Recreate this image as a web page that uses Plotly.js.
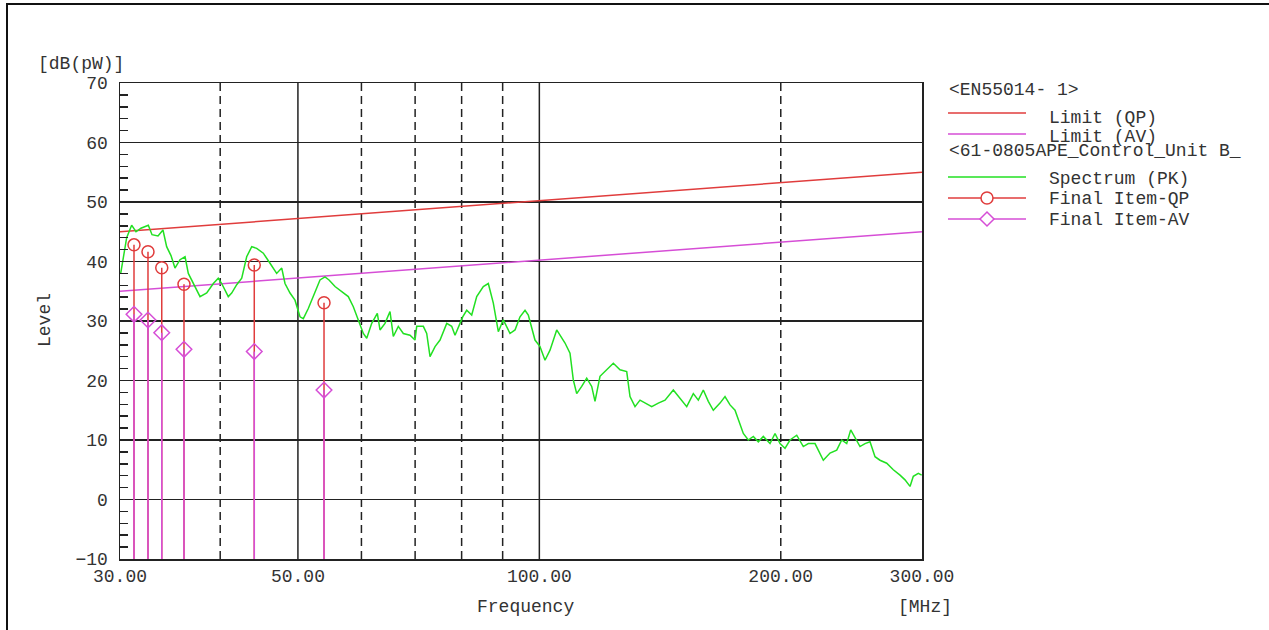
<!DOCTYPE html>
<html>
<head>
<meta charset="utf-8">
<script src="https://cdn.plot.ly/plotly-3.0.1.min.js"></script>
<style>
  html, body { margin: 0; padding: 0; background: #fff; }
  #chart { width: 1269px; height: 630px; }
  #frame { position: absolute; left: 6px; top: 3px; width: 1263px; height: 627px;
           border-left: 2px solid #111; border-top: 2px solid #111; pointer-events: none; box-sizing: border-box; }
</style>
</head>
<body>
<div id="chart"></div>
<div id="frame"></div>
<script>
// ---- data ----
const xTickVals = [30, 50, 100, 200, 300];
const xTickText = ['30.00', '50.00', '100.00', '200.00', '300.00'];
const gridDashed = [40, 60, 70, 80, 90, 200];
const gridSolid = [50, 100];

const limitFreq = [30, 300];
const limitQP = [45, 55];
const limitAV = [35, 45];

const specFreq = [30.06,30.58,31.02,31.41,31.86,32.54,32.89,33.46,33.94,34.30,34.73,35.13,35.64,36.16,36.50,37.21,37.75,38.48,39.22,39.78,
  40.17,40.94,41.34,41.94,42.55,43.16,43.79,44.42,45.27,46.15,47.04,47.73,48.18,48.88,49.58,50.30,50.78,51.51,52.26,53.27,
  54.04,54.67,55.62,56.70,57.78,58.62,59.47,60.33,60.92,61.80,62.80,63.29,64.20,65.13,65.75,66.70,67.67,68.98,69.98,70.32,
  71.67,72.37,73.06,74.12,75.19,76.65,77.75,78.50,79.63,80.25,81.18,82.35,83.54,85.14,86.37,87.62,88.89,90.17,91.92,93.25,
  94.60,95.97,96.88,98.76,100.19,101.64,103.11,105.11,107.65,109.20,110.24,111.32,112.93,114.57,116.22,117.33,119.02,120.75,123.66,126.06,
  128.51,129.73,131.61,133.51,135.44,138.07,140.71,143.45,146.91,149.76,152.67,155.59,157.84,160.12,162.43,164.78,167.98,170.41,172.88,175.38,
  177.05,179.61,182.20,184.84,187.51,190.22,193.92,196.72,199.56,202.45,205.38,209.37,213.37,216.46,220.66,225.98,230.37,234.84,238.24,241.68,
  244.48,247.51,251.09,254.72,258.41,262.14,265.93,271.10,276.28,281.65,285.72,289.85,292.61,296.84,299.75];
const specLevel = [38.0,44.0,46.1,45.0,45.6,46.1,44.5,44.3,45.3,42.5,41.0,38.9,40.3,40.8,38.0,35.8,34.1,34.7,36.3,37.2,
  36.3,34.1,34.7,36.1,37.2,40.8,42.5,42.2,41.4,39.7,38.0,38.9,36.3,34.7,33.5,30.7,30.4,32.1,34.1,36.9,
  37.4,36.9,35.8,34.9,34.1,32.4,30.2,27.9,27.1,29.6,31.3,28.5,29.6,31.6,27.4,29.1,27.9,27.6,26.8,29.1,
  29.1,27.9,24.0,25.7,26.8,29.6,29.1,27.6,29.6,30.7,31.8,31.0,34.1,35.8,36.3,33.0,28.2,30.2,27.9,28.5,
  30.7,31.8,31.0,26.8,25.7,23.4,25.1,28.5,26.3,24.6,20.1,17.8,19.0,20.4,19.0,16.5,20.7,21.5,22.9,21.8,
  21.5,17.3,15.6,16.7,16.2,15.6,16.2,16.7,18.4,17.0,15.6,17.8,16.7,18.4,16.5,15.0,16.2,17.3,15.9,15.0,
  13.4,11.1,10.0,10.6,9.7,10.6,9.4,11.1,9.4,8.6,10.0,10.8,8.9,9.4,9.4,6.6,7.8,8.3,10.0,9.4,
  11.7,10.3,8.9,9.4,9.7,7.2,6.6,6.1,5.0,4.1,3.3,2.2,3.9,4.4,4.1];

const finalFreq = [31.23, 32.51, 33.82, 36.05, 44.11, 53.89];
const finalQP = [42.8, 41.65, 38.96, 36.17, 39.41, 33.08];
const finalAV = [31.13, 30.17, 28.04, 25.24, 24.86, 18.4];

const yMin = -10, yMax = 70;

// ---- style ----
const RED = '#e03c3c', MAG = '#d64ed6', GREEN = '#22e022', INK = '#222', TXT = '#333';
const FONT = 'Liberation Mono, Courier New, monospace';

function vlines(vals) {
  const x = [], y = [];
  vals.forEach(v => { x.push(v, v, null); y.push(yMin, yMax, null); });
  return {x, y};
}
function stems(freqs, tops) {
  const x = [], y = [];
  freqs.forEach((f, i) => { x.push(f, f, null); y.push(tops[i], yMin, null); });
  return {x, y};
}

const gd = vlines(gridDashed), gs = vlines(gridSolid);
const sq = stems(finalFreq, finalQP), sa = stems(finalFreq, finalAV);

const traces = [
  {x: gd.x, y: gd.y, mode: 'lines', line: {color: INK, width: 1.5, dash: '8px,5px'}, hoverinfo: 'skip'},
  {x: gs.x, y: gs.y, mode: 'lines', line: {color: INK, width: 1.5}, hoverinfo: 'skip'},
  {x: limitFreq, y: limitQP, mode: 'lines', line: {color: RED, width: 1.5}},
  {x: limitFreq, y: limitAV, mode: 'lines', line: {color: MAG, width: 1.5}},
  {x: specFreq, y: specLevel, mode: 'lines', line: {color: GREEN, width: 1.5}},
  {x: sq.x, y: sq.y, mode: 'lines', line: {color: RED, width: 1.5}},
  {x: sa.x, y: sa.y, mode: 'lines', line: {color: MAG, width: 1.5}},
  {x: finalFreq, y: finalQP, mode: 'markers', marker: {symbol: 'circle-open', size: 12, color: RED, line: {width: 1.5, color: RED}}},
  {x: finalFreq, y: finalAV, mode: 'markers', marker: {symbol: 'diamond-open', size: 12, color: MAG, line: {width: 1.5, color: MAG}}}
];
traces.forEach(t => { t.showlegend = false; t.type = 'scatter'; t.cliponaxis = false; });

// plot area in pixels
const L = 120, R = 922, T = 83, B = 559;
const px = x => (x - L) / (R - L);
const py = y => (B - y) / (B - T);

function txt(text, x, y, opts) {
  return Object.assign({text, x: px(x), y: py(y), xref: 'paper', yref: 'paper', showarrow: false,
    xanchor: 'left', yanchor: 'middle', font: {family: FONT, size: 18, color: TXT}}, opts || {});
}

const annotations = [
  txt('[dB(pW)]', 81, 64, {xanchor: 'center'}),
  txt('Level', 45, 320, {xanchor: 'center', textangle: -90}),
  txt('Frequency', 525, 607, {xanchor: 'center'}),
  txt('[MHz]', 925, 607, {xanchor: 'center'}),
  txt('&lt;EN55014- 1&gt;', 947, 90),
  txt('Limit (QP)', 1047, 118),
  txt('Limit (AV)', 1047, 137),
  txt('&lt;61-0805APE_Control_Unit B_', 947, 151),
  txt('Spectrum (PK)', 1047, 179),
  txt('Final Item-QP', 1047, 199),
  txt('Final Item-AV', 1047, 220)
];

function hl(y, color) {
  return {type: 'line', xref: 'paper', yref: 'paper', x0: px(948), x1: px(1026), y0: py(y), y1: py(y),
    line: {color, width: 1.5}};
}
const cx = 987, rr = 6;
const shapes = [
  hl(113, RED), hl(134, MAG), hl(177, GREEN), hl(198, RED), hl(219, MAG),
  {type: 'circle', xref: 'paper', yref: 'paper', x0: px(cx - rr), x1: px(cx + rr), y0: py(198 + rr), y1: py(198 - rr),
    line: {color: RED, width: 1.5}, fillcolor: '#fff'},
  {type: 'path', xref: 'paper', yref: 'paper',
    path: `M ${px(cx - 7)} ${py(219)} L ${px(cx)} ${py(212)} L ${px(cx + 7)} ${py(219)} L ${px(cx)} ${py(226)} Z`,
    line: {color: MAG, width: 1.5}, fillcolor: '#fff'}
];

const layout = {
  width: 1269, height: 630,
  margin: {l: L, r: 1269 - R, t: T, b: 630 - B},
  paper_bgcolor: '#fff', plot_bgcolor: '#fff',
  showlegend: false,
  font: {family: FONT, size: 18, color: TXT},
  xaxis: {
    type: 'log', range: [Math.log10(30), Math.log10(300)],
    tickvals: xTickVals, ticktext: xTickText, ticks: '',
    showgrid: false, zeroline: false,
    showline: true, mirror: true, linecolor: INK, linewidth: 1.5,
    tickfont: {family: FONT, size: 18, color: TXT}
  },
  yaxis: {
    range: [yMin, yMax], dtick: 10, tick0: 0,
    ticks: 'inside', ticklen: 8, tickcolor: INK, tickwidth: 1.5, ticklabelstandoff: 7,
    minor: {dtick: 2, ticks: 'inside', ticklen: 8, tickcolor: INK, tickwidth: 1.5, showgrid: false},
    showgrid: true, gridcolor: INK, gridwidth: 1.5, zeroline: false,
    showline: true, mirror: true, linecolor: INK, linewidth: 1.5,
    tickfont: {family: FONT, size: 18, color: TXT}
  },
  annotations, shapes
};

Plotly.newPlot('chart', traces, layout, {staticPlot: true, displayModeBar: false});
</script>
</body>
</html>
